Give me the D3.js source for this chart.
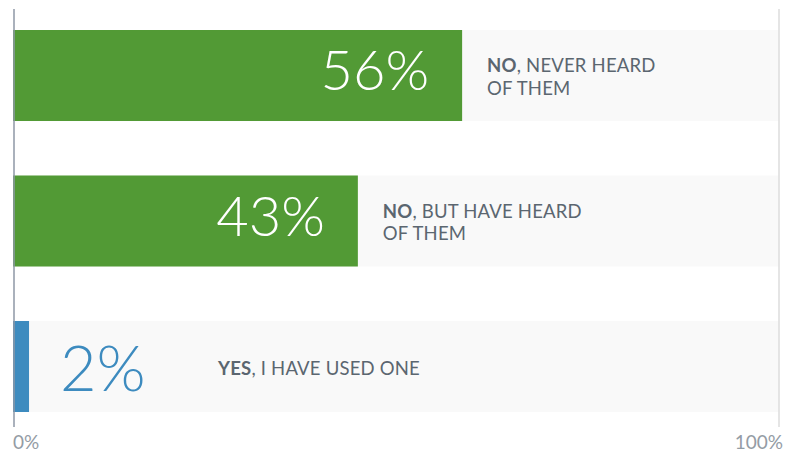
<!DOCTYPE html>
<html>
<head>
<meta charset="utf-8">
<script src="https://cdn.jsdelivr.net/npm/d3@7"></script>
<style>
  body { margin: 0; background: #fff; }
  text { font-family: Lato, "Open Sans", sans-serif; }
</style>
</head>
<body>
<script>
// data
var answers = ["NO, NEVER HEARD OF THEM", "NO, BUT HAVE HEARD OF THEM", "YES, I HAVE USED ONE"];
var boldWords = ["NO", "NO", "YES"];
var restLines = [[", NEVER HEARD", "OF THEM"], [", BUT HAVE HEARD", "OF THEM"], [", I HAVE USED ONE"]];
var shares = [56, 43, 2];
var barColors = ["#529a35", "#529a35", "#3d8bbf"];
var tickLabels = ["0%", "100%"];

var width = 792, height = 454;

var svg = d3.select("body").append("svg")
  .attr("width", width)
  .attr("height", height);

var rows = answers.map(function(a, i) {
  return { answer: a, bold: boldWords[i], rest: restLines[i], value: shares[i], color: barColors[i] };
});

var x = d3.scaleLinear().domain([0, 100]).range([13, 815]);
var xAxis = d3.scaleLinear().domain([0, 100]).range([14, 779]);
var y = d3.scaleBand().domain(answers).range([30, 412]).paddingInner(0.3745);

// grey tracks
svg.selectAll("rect.track")
  .data(rows)
  .enter()
  .append("rect")
  .attr("class", "track")
  .attr("x", x(0))
  .attr("y", function(d) { return y(d.answer); })
  .attr("width", xAxis(100) - x(0))
  .attr("height", y.bandwidth())
  .style("fill", "#f9f9f9");

// bars
svg.selectAll("rect.bar")
  .data(rows)
  .enter()
  .append("rect")
  .attr("class", "bar")
  .attr("x", x(0))
  .attr("y", function(d) { return y(d.answer); })
  .attr("width", function(d) { return x(d.value) - x(0); })
  .attr("height", y.bandwidth())
  .style("fill", function(d) { return d.color; });

// axis lines
svg.append("line")
  .attr("x1", xAxis(0)).attr("x2", xAxis(0))
  .attr("y1", 9).attr("y2", 427)
  .style("stroke", "#8e97a6").style("stroke-width", 1.5);
svg.append("line")
  .attr("x1", xAxis(100)).attr("x2", xAxis(100))
  .attr("y1", 9).attr("y2", 427)
  .style("stroke", "#dcdcdc").style("stroke-width", 1.5);

svg.selectAll("text.tick")
  .data(tickLabels)
  .enter()
  .append("text")
  .attr("class", "tick")
  .attr("x", function(d, i) { return xAxis(i * 100) + (i ? 4 : -1); })
  .attr("y", 449)
  .attr("text-anchor", function(d, i) { return i ? "end" : "start"; })
  .style("font-size", "19px")
  .style("font-weight", 400)
  .style("fill", "#949ca5")
  .text(function(d) { return d; });

var inside = function(d) { return d.value > 10; };

// big numbers
svg.selectAll("text.num")
  .data(rows)
  .enter()
  .append("text")
  .attr("class", "num")
  .attr("x", function(d) { return inside(d) ? x(d.value) - 33 : x(d.value) + 31; })
  .attr("y", function(d) { return y(d.answer) + y.bandwidth() / 2 + (inside(d) ? 14.5 : 24.5); })
  .attr("text-anchor", function(d) { return inside(d) ? "end" : "start"; })
  .style("font-size", function(d) { return inside(d) ? "56px" : "63px"; })
  .style("font-weight", 300)
  .style("fill", function(d) { return inside(d) ? "#fff" : d.color; })
  .text(function(d) { return d.value + "%"; });

// answer labels
var labels = svg.selectAll("text.label")
  .data(rows)
  .enter()
  .append("text")
  .attr("class", "label")
  .attr("x", function(d) { return inside(d) ? x(d.value) + 25 : x(d.value) + 189; })
  .attr("y", function(d) {
    var c = y(d.answer) + y.bandwidth() / 2;
    return d.rest.length > 1 ? c - 3.5 : c + 8.5;
  })
  .style("font-size", "18.5px")
  .style("letter-spacing", "0.2px")
  .style("fill", "#5b6670");

labels.each(function(d) {
  var t = d3.select(this);
  var lx = t.attr("x");
  t.append("tspan").style("font-weight", 700).text(d.bold);
  t.append("tspan").text(d.rest[0]);
  if (d.rest[1]) {
    t.append("tspan").attr("x", lx).attr("dy", 22.5).text(d.rest[1]);
  }
});
</script>
</body>
</html>
